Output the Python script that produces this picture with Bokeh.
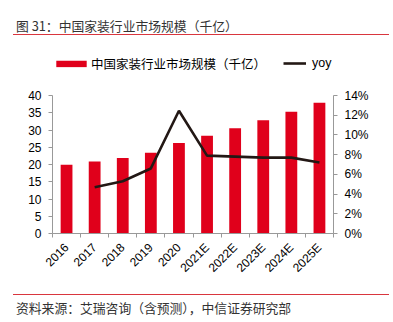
from bokeh.plotting import figure
from bokeh.models import (Range1d, LinearAxis, FixedTicker, NumeralTickFormatter,
                          Legend, LegendItem, ColumnDataSource, Div)
from bokeh.layouts import column
from bokeh.embed import file_html
from bokeh.resources import INLINE
import math

categories = ["2016", "2017", "2018", "2019", "2020", "2021E", "2022E", "2023E", "2024E", "2025E"]
market_size = [19.9, 20.9, 21.9, 23.4, 26.2, 28.3, 30.5, 32.8, 35.3, 37.9]
yoy_years = ["2017", "2018", "2019", "2020", "2021E", "2022E", "2023E", "2024E", "2025E"]
yoy = [0.047, 0.053, 0.066, 0.1245, 0.079, 0.078, 0.077, 0.077, 0.072]
left_ticks = [0, 5, 10, 15, 20, 25, 30, 35, 40]
right_ticks = [0, 0.02, 0.04, 0.06, 0.08, 0.10, 0.12, 0.14]
title_text = "图 31：中国家装行业市场规模（千亿）"
source_text = "资料来源：艾瑞咨询（含预测），中信证券研究部"
bar_label = "中国家装行业市场规模（千亿）"
line_label = "yoy"

RED = "#e0001b"
RULE = "#d9363e"
DARK = "#231815"
AXIS = "#999999"
TXT = "#333333"
CJK = "Noto Sans CJK SC"
LAT = "Liberation Sans"

W = 393
TOP_H = 38          # title block (page 0..38)
LEG_H = 50          # legend block (page 38..88)
BOT_H = 34          # source block (page 288..322)
PLOT_TOP = TOP_H + LEG_H
PH = 322 - PLOT_TOP - BOT_H
FL, FR = 52, 333    # frame left / right (page px)
FT, FB = 95, 233    # frame top / bottom (page px)

top_div = Div(width=W, height=TOP_H, margin=0, text=(
    f'<div style="margin-left:13px;width:376px;height:34px;border-bottom:1px solid {RULE};'
    f'box-sizing:content-box;">'
    f'<div style="padding:18px 0 0 3px;line-height:16px;font-family:\'{CJK}\';'
    f'font-size:12.8px;color:{TXT};white-space:nowrap;">{title_text}</div></div>'))

bot_div = Div(width=W, height=BOT_H, margin=0, text=(
    f'<div style="margin-left:13px;margin-top:6px;width:376px;border-top:1px solid {RULE};">'
    f'<div style="padding:5px 0 0 3px;line-height:16px;font-family:\'{CJK}\';'
    f'font-size:12.8px;color:{TXT};white-space:nowrap;">{source_text}</div></div>'))

xc = [i + 0.5 for i in range(len(categories))]
yx = [categories.index(c) + 0.5 for c in yoy_years]

# ---- legend strip (series drawn out of view, only the legend shows) ----
# its frame is aligned by the column layout with the main chart's frame (x = 52..333)
lg = figure(width=W, height=LEG_H, output_backend="svg", toolbar_location=None,
            x_range=Range1d(100, 101), y_range=Range1d(100, 101),
            x_axis_type=None, y_axis_type=None, min_border=0, margin=0)
lg.outline_line_color = None
lg.xgrid.visible = False
lg.ygrid.visible = False
lbar = lg.vbar(x=xc, top=market_size, width=0.42, fill_color=RED, line_color=None)
lline = lg.line(x=yx, y=yoy, line_color=DARK, line_width=2.6)
common = dict(orientation="horizontal", glyph_height=8, padding=0, spacing=0,
              border_line_color=None, background_fill_alpha=0, label_text_color="#000000",
              label_text_font_size="12.5px", location="left")
leg1 = Legend(items=[LegendItem(label=bar_label, renderers=[lbar])],
              margin=0, glyph_width=38, label_standoff=1,
              label_text_font=CJK, **common)
leg2 = Legend(items=[LegendItem(label=line_label, renderers=[lline])],
              margin=231, glyph_width=23, label_standoff=6,
              label_text_font=LAT, **common)
lg.add_layout(leg1, "center")
lg.add_layout(leg2, "center")

# ---- main chart ----
p = figure(width=W, height=PH, output_backend="svg", toolbar_location=None,
           x_range=Range1d(0, len(categories)), y_range=Range1d(0, 40),
           min_border_left=FL, min_border_right=W - FR, min_border_top=FT - PLOT_TOP,
           min_border_bottom=PH - (FB - PLOT_TOP), x_axis_type=None, y_axis_type=None,
           margin=0)
p.outline_line_color = None
p.xgrid.visible = False
p.ygrid.visible = False
p.extra_y_ranges = {"yoy": Range1d(0, 0.14)}

src = ColumnDataSource(dict(x=xc, top=market_size))
p.vbar(x="x", top="top", width=0.42, source=src, fill_color=RED, line_color=None)
p.line(yx, yoy, y_range_name="yoy", line_color=DARK, line_width=2.6)

la = LinearAxis(ticker=FixedTicker(ticks=left_ticks))
ra = LinearAxis(y_range_name="yoy", ticker=FixedTicker(ticks=right_ticks),
                formatter=NumeralTickFormatter(format="0%"))
for ax in (la, ra):
    ax.axis_line_color = AXIS
    ax.major_tick_line_color = AXIS
    ax.major_tick_out = 4
    ax.major_tick_in = 0
    ax.minor_tick_out = 0
    ax.minor_tick_in = 0
    ax.major_label_text_font = LAT
    ax.major_label_text_font_size = "12px"
    ax.major_label_text_color = "#000000"
    ax.major_label_standoff = 7
p.add_layout(la, "left")
p.add_layout(ra, "right")

bx = LinearAxis(ticker=FixedTicker(ticks=xc, minor_ticks=list(range(len(categories) + 1))),
                major_label_overrides={x: c for x, c in zip(xc, categories)})
bx.axis_line_color = AXIS
bx.major_tick_line_color = None
bx.major_tick_out = 0
bx.major_tick_in = 0
bx.minor_tick_line_color = AXIS
bx.minor_tick_out = 4
bx.minor_tick_in = 0
bx.major_label_orientation = math.pi / 4
bx.major_label_text_font = LAT
bx.major_label_text_font_size = "12px"
bx.major_label_text_color = "#000000"
bx.major_label_standoff = 8
p.add_layout(bx, "below")

layout = column(top_div, lg, p, bot_div, spacing=0, margin=0)
open("out.html", "w").write(file_html(layout, INLINE))
